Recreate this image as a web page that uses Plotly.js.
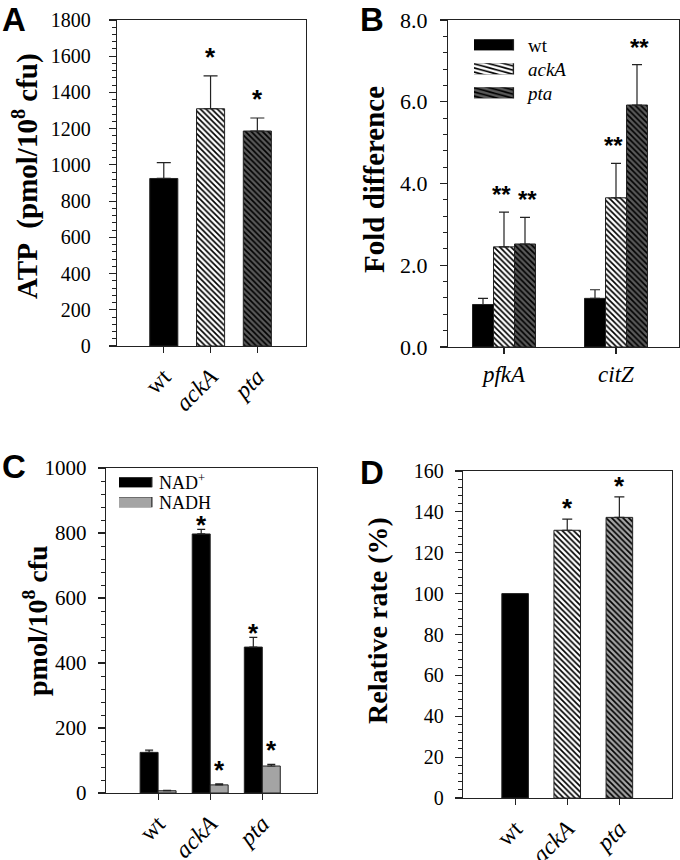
<!DOCTYPE html>
<html>
<head>
<meta charset="utf-8">
<script src="https://cdn.plot.ly/plotly-3.0.1.min.js"></script>
<style>html,body{margin:0;padding:0;background:#fff;}#chart{width:680px;height:860px;}</style>
</head>
<body>
<div id="chart"></div>
<script>
// ---- Data ----
const strains = ['wt', 'ackA', 'pta'];
const strainLabels = ['wt', '<i>ackA</i>', '<i>pta</i>'];

// Panel A: ATP
const atpMean = [925, 1310, 1187];
const atpErr = [88, 182, 72];
const atpSig = ['', '*', '*'];

// Panel B: fold difference
const genes = ['pfkA', 'citZ'];
const geneLabels = ['<i>pfkA</i>', '<i>citZ</i>'];
const foldWt = [1.04, 1.19];
const foldWtErr = [0.15, 0.21];
const foldWtSig = ['', ''];
const foldAckA = [2.45, 3.65];
const foldAckAErr = [0.85, 0.84];
const foldAckASig = ['**', '**'];
const foldPta = [2.52, 5.92];
const foldPtaErr = [0.65, 0.99];
const foldPtaSig = ['**', '**'];

// Panel C: NAD+/NADH
const nadPlus = [125, 797, 449];
const nadPlusErr = [7, 14, 30];
const nadPlusSig = ['', '*', '*'];
const nadh = [7, 25, 83];
const nadhErr = [1, 3, 5];
const nadhSig = ['', '*', '*'];

// Panel D: relative rate
const rateMean = [100, 131, 137.3];
const rateErr = [0, 5.5, 10];
const rateSig = ['', '*', '*'];

// Axis titles
const titleA = 'ATP\u00a0 (pmol/10<sup>8</sup> cfu)';
const titleB = 'Fold difference';
const titleC = 'pmol/10<sup>8</sup> cfu';
const titleD = 'Relative rate (%)';

// ---- Styles ----
const W = 680, H = 860;
const serif = 'Liberation Serif';
const sans = 'Liberation Sans';
const lineCol = '#222';
const darkGray = '#5a5a5a';
const lightGray = '#a4a4a4';

function patt(shape, bg, fg) {
  return {shape: shape, bgcolor: bg, fgcolor: fg, size: 4, solidity: 0.42, fillmode: 'replace'};
}
function errBar(arr, w) {
  return {type: 'data', array: arr, arrayminus: arr.map(() => 0), symmetric: false,
          visible: true, color: lineCol, thickness: 1.2, width: w};
}
const styleA = [
  {color: '#000', p: patt('', '#000', '#000')},
  {color: '#fff', p: patt('\\', '#fff', '#000')},
  {color: darkGray, p: patt('\\', darkGray, '#000')}
];
const styleD = [
  {color: '#000', p: patt('', '#000', '#000')},
  {color: '#fff', p: patt('\\', '#fff', '#000')},
  {color: lightGray, p: patt('\\', lightGray, '#000')}
];

const traces = [];

// A
strains.forEach((s, i) => {
  traces.push({
    type: 'bar', x: [s], y: [atpMean[i]], xaxis: 'x', yaxis: 'y', showlegend: false,
    width: 0.6,
    marker: {color: styleA[i].color, line: {color: lineCol, width: 1}, pattern: styleA[i].p},
    error_y: errBar([atpErr[i]], 7)
  });
});

// B
const bW = 0.1875;
const bSeries = [
  {name: 'wt', y: foldWt, e: foldWtErr, s: foldWtSig, color: '#000', p: patt('', '#000', '#000')},
  {name: '<i>ackA</i>', y: foldAckA, e: foldAckAErr, s: foldAckASig, color: '#fff', p: patt('\\', '#fff', '#000')},
  {name: '<i>pta</i>', y: foldPta, e: foldPtaErr, s: foldPtaSig, color: darkGray, p: patt('\\', darkGray, '#000')}
];
bSeries.forEach((s, i) => {
  traces.push({
    type: 'bar', name: s.name, x: genes, y: s.y, xaxis: 'x2', yaxis: 'y2', legend: 'legend',
    width: bW, offset: -1.5 * bW + i * bW,
    marker: {color: s.color, line: {color: lineCol, width: 1}, pattern: s.p},
    error_y: errBar(s.e, 5)
  });
});

// C
const cW = 0.345;
const cSeries = [
  {name: 'NAD<sup>+</sup>', y: nadPlus, e: nadPlusErr, s: nadPlusSig, color: '#000'},
  {name: 'NADH', y: nadh, e: nadhErr, s: nadhSig, color: lightGray}
];
cSeries.forEach((s, i) => {
  traces.push({
    type: 'bar', name: s.name, x: strains, y: s.y, xaxis: 'x3', yaxis: 'y3', legend: 'legend2',
    width: cW, offset: -cW + i * cW,
    marker: {color: s.color, line: {color: lineCol, width: 1}},
    error_y: errBar(s.e, 4)
  });
});

// D
strains.forEach((s, i) => {
  traces.push({
    type: 'bar', x: [s], y: [rateMean[i]], xaxis: 'x4', yaxis: 'y4', showlegend: false,
    width: 0.51,
    marker: {color: styleD[i].color, line: {color: lineCol, width: 1}, pattern: styleD[i].p},
    error_y: rateErr[i] > 0 ? errBar([rateErr[i]], 5) : {visible: false}
  });
});

// ---- Annotations (significance, axis titles, panel letters) ----
const ann = [];
function sigAnn(xref, yref, xs, tops, errs, sigs, size, yshift) {
  sigs.forEach((t, i) => {
    if (!t) return;
    ann.push({xref: xref, yref: yref, x: xs[i], y: tops[i] + errs[i], text: t, showarrow: false,
              yanchor: 'bottom', xanchor: 'center', yshift: yshift,
              font: {family: sans, size: size, color: '#000', weight: 'bold'}});
  });
}
sigAnn('x', 'y', [0, 1, 2], atpMean, atpErr, atpSig, 26, 2);
bSeries.forEach((s, j) => {
  sigAnn('x2', 'y2', genes.map((g, i) => i - 1.5 * bW + j * bW + bW / 2 + (j - 1.5) * 0.05), s.y, s.e, s.s, 24, 2);
});
cSeries.forEach((s, j) => {
  sigAnn('x3', 'y3', strains.map((g, i) => i - cW + j * cW + cW / 2), s.y, s.e, s.s, 26, j === 0 ? -13 : -3);
});
sigAnn('x4', 'y4', [0, 1, 2], rateMean, rateErr, rateSig, 26, -6);

[[titleA, 25, 176, 29], [titleB, 374, 180, 29], [titleC, 35, 621, 28], [titleD, 377, 621, 28]].forEach(t => ann.push({
  xref: 'paper', yref: 'paper', x: t[1] / W, y: 1 - t[2] / H, text: t[0], textangle: -90,
  showarrow: false, xanchor: 'center', yanchor: 'middle',
  font: {family: serif, size: t[3], color: '#000', weight: 'bold'}}));

const letters = [['A', 0, 19], ['B', 358, 19], ['C', 0, 466], ['D', 358, 472]];
letters.forEach(l => ann.push({xref: 'paper', yref: 'paper', x: l[1] / W, y: 1 - l[2] / H, text: l[0],
  showarrow: false, xanchor: 'left', yanchor: 'middle', font: {family: sans, size: 33, color: '#000', weight: 'bold'}}));

// ---- Axes ----
function yax(domain, range, dtick, minor, tickSize, lblStand, fmt, anchor) {
  return {domain: domain, range: range, dtick: dtick, tick0: 0, anchor: anchor, tickformat: fmt,
    showline: true, mirror: true, linecolor: lineCol, linewidth: 1.2,
    ticks: 'outside', ticklen: 7, tickcolor: lineCol, tickwidth: 1.2, ticklabelstandoff: lblStand,
    minor: {ticks: 'outside', ticklen: 4, dtick: minor, tickcolor: lineCol, tickwidth: 1},
    showgrid: false, zeroline: false, automargin: false,
    tickfont: {family: serif, size: tickSize, color: '#000'}};
}
function xax(domain, range, labels, vals, angle, size, anchor) {
  return {domain: domain, range: range, type: 'category', anchor: anchor,
    tickvals: vals, ticktext: labels, tickangle: angle,
    showline: true, mirror: true, linecolor: lineCol, linewidth: 1.2,
    ticks: 'outside', ticklen: 6, tickcolor: lineCol, tickwidth: 1.2,
    showgrid: false, zeroline: false, automargin: false,
    tickfont: {family: serif, size: size, color: '#000'}};
}

const layout = {
  width: W, height: H, margin: {l: 0, r: 0, t: 0, b: 0},
  paper_bgcolor: '#fff', plot_bgcolor: '#fff',
  barmode: 'overlay',
  font: {family: serif, color: '#000'},
  xaxis: xax([117 / W, 306 / W], [-1, 3.04], strainLabels, strains, -45, 24, 'y'),
  yaxis: yax([1 - 346 / H, 1 - 20 / H], [0, 1800], 200, 40, 20, 14, '', 'x'),
  xaxis2: xax([448 / W, 679 / W], [-0.5, 1.5625], geneLabels, genes, 0, 23, 'y2'),
  yaxis2: yax([1 - 347 / H, 1 - 20 / H], [0, 8], 2, 0.4, 22, 8, '.1f', 'x2'),
  xaxis3: xax([106 / W, 317 / W], [-1, 3.05], strainLabels, strains, -45, 24, 'y3'),
  yaxis3: yax([1 - 793 / H, 1 - 468 / H], [0, 1000], 200, 40, 21, 7, '', 'x3'),
  xaxis4: xax([463 / W, 672 / W], [-1, 3.01], strainLabels, strains, -45, 24, 'y4'),
  yaxis4: yax([1 - 798 / H, 1 - 471 / H], [0, 160], 20, 4, 20, 7, '', 'x4'),
  legend: {x: 474 / W, y: 1 - 26 / H, xanchor: 'left', yanchor: 'top', bgcolor: 'rgba(0,0,0,0)',
           font: {family: serif, size: 19, color: '#000'}, itemwidth: 44, tracegroupgap: 0},
  legend2: {x: 119 / W, y: 1 - 464 / H, xanchor: 'left', yanchor: 'top', bgcolor: 'rgba(0,0,0,0)',
            font: {family: serif, size: 18, color: '#000'}, itemwidth: 30, tracegroupgap: 0},
  annotations: ann
};

Plotly.newPlot('chart', traces, layout, {staticPlot: true, displayModeBar: false}).then(gd => {
  // legend keys: long flat rectangles and tighter rows, as in the original figure
  const cfg = {legend: {dx: -8, sx: 3.4, sy: 0.92, gap: 24}, legend2: {dx: -4.5, sx: 2.9, sy: 0.83, gap: 20}};
  Object.keys(cfg).forEach(cls => {
    const lg = gd.querySelector('g.' + cls);
    if (!lg) return;
    const c = cfg[cls];
    lg.querySelectorAll('.legendpoints path').forEach(p => {
      const t = p.getAttribute('transform') || '';
      p.setAttribute('transform', t + ' translate(' + c.dx + ',0) scale(' + c.sx + ',' + c.sy + ')');
      p.style.strokeWidth = '0.4px';
    });
    const items = lg.querySelectorAll('g.traces');
    let y0 = null;
    items.forEach((it, i) => {
      const t = it.getAttribute('transform') || '';
      const m = t.match(/translate\(\s*([-\d.]+)[ ,]+([-\d.]+)\s*\)/);
      if (!m) return;
      if (y0 === null) y0 = parseFloat(m[2]);
      it.setAttribute('transform', 'translate(' + m[1] + ',' + (y0 + i * c.gap) + ')');
    });
  });
});
</script>
</body>
</html>
